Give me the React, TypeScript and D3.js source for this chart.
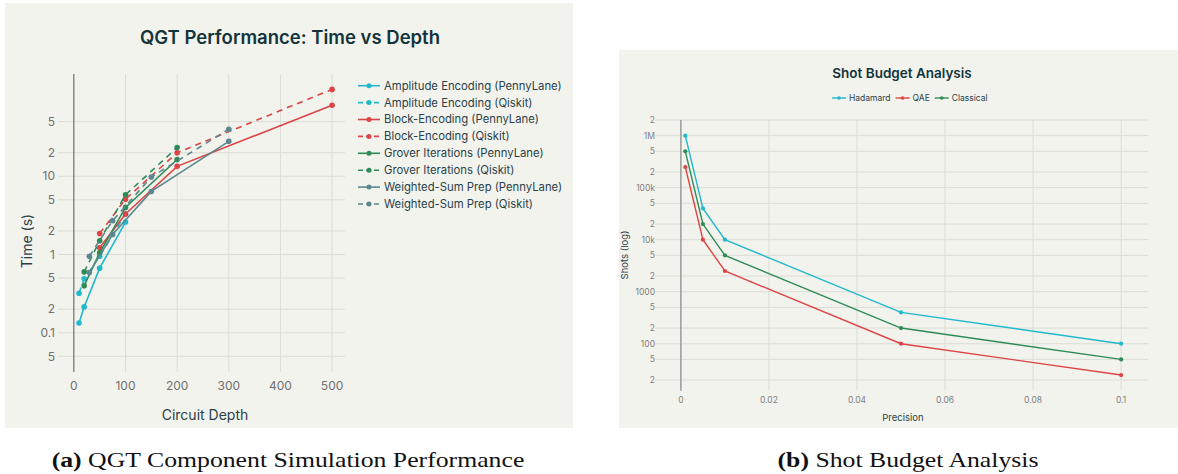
import React, { useEffect, useRef } from "react";
import * as d3 from "d3";

// ---- panel (a): time vs circuit depth ----
const ampDepth = [10, 20, 50, 100];
const ampPenny = [0.133, 0.214, 0.67, 2.6];
const ampQiskit = [0.32, 0.49, 0.95, 3.3];

const blockDepth = [50, 100, 200, 500];
const blockPenny = [1.22, 3.3, 13.4, 81];
const blockQiskit = [1.86, 5.1, 20, 129];

const groverDepth = [20, 50, 100, 200];
const groverPenny = [0.4, 1.05, 4.0, 16.4];
const groverQiskit = [0.6, 1.5, 5.8, 23.3];

const wsDepth = [30, 75, 150, 300];
const wsPenny = [0.59, 1.8, 6.4, 28];
const wsQiskit = [0.95, 2.7, 9.8, 40];

const timeTicks = [0.05, 0.1, 0.2, 0.5, 1, 2, 5, 10, 20, 50];
const timeTickLabels = ["5", "0.1", "2", "5", "1", "2", "5", "10", "2", "5"];
const depthTicks = [0, 100, 200, 300, 400, 500];

// ---- panel (b): shots vs precision ----
const precision = [0.001, 0.005, 0.01, 0.05, 0.1];
const hadamardShots = [1000000, 40000, 10000, 400, 100];
const qaeShots = [250000, 10000, 2500, 100, 25];
const classicalShots = [500000, 20000, 5000, 200, 50];

const shotTicks = [20, 50, 100, 200, 500, 1000, 2000, 5000, 10000, 20000, 50000, 100000, 200000, 500000, 1000000, 2000000];
const shotTickLabels = ["2", "5", "100", "2", "5", "1000", "2", "5", "10k", "2", "5", "100k", "2", "5", "1M", "2"];
const precTicks = [0, 0.02, 0.04, 0.06, 0.08, 0.1];
const precTickLabels = ["0", "0.02", "0.04", "0.06", "0.08", "0.1"];

const CYAN = "#1FB8CD";
const RED = "#DB4545";
const GREEN = "#2E8B57";
const SLATE = "#5D878F";
const BG = "#F3F3EE";
const GRID = "#DCDCD6";
const FONT = "Inter, 'Open Sans', sans-serif";

type Series = { name: string; xs: number[]; ys: number[]; color: string; dashed: boolean };

const App = () => {
  const svgRef = useRef<SVGSVGElement>(null);

  useEffect(() => {
    const svg = d3.select(svgRef.current);
    svg.selectAll("*").remove();

    // ===== left panel =====
    const L = svg.append("g");
    L.append("rect").attr("x", 5).attr("y", 3).attr("width", 568).attr("height", 425).attr("fill", BG);

    const x1 = d3.scaleLinear().domain([-21, 525]).range([63, 345]);
    const y1 = d3.scaleLog().domain([0.0315, 203]).range([372, 74]);

    // grid
    L.selectAll(".hg").data(timeTicks).join("line")
      .attr("x1", 58).attr("x2", 345)
      .attr("y1", d => y1(d)).attr("y2", d => y1(d))
      .attr("stroke", GRID).attr("stroke-width", 1);
    L.selectAll(".vg").data(depthTicks.slice(1)).join("line")
      .attr("x1", d => x1(d)).attr("x2", d => x1(d))
      .attr("y1", 74).attr("y2", 372)
      .attr("stroke", GRID).attr("stroke-width", 1);
    L.append("line").attr("x1", x1(0)).attr("x2", x1(0)).attr("y1", 74).attr("y2", 372)
      .attr("stroke", "#555").attr("stroke-width", 1);

    L.selectAll(".yt").data(timeTicks).join("text")
      .attr("x", 55).attr("y", d => y1(d)).attr("dy", "0.35em")
      .attr("text-anchor", "end").attr("fill", "#707070")
      .style("font-family", FONT).style("font-size", "12px")
      .text((d, i) => timeTickLabels[i]);
    L.selectAll(".xt").data(depthTicks).join("text")
      .attr("x", d => x1(d)).attr("y", 386).attr("dy", "0.35em")
      .attr("text-anchor", "middle").attr("fill", "#707070")
      .style("font-family", FONT).style("font-size", "12px")
      .text(d => String(d));

    L.append("text").attr("x", 290).attr("y", 38).attr("dy", "0.35em")
      .attr("text-anchor", "middle").attr("fill", "#13343B")
      .style("font-family", FONT).style("font-size", "18.5px").style("font-weight", 600)
      .text("QGT Performance: Time vs Depth");
    L.append("text").attr("x", 205).attr("y", 415).attr("dy", "0.35em")
      .attr("text-anchor", "middle").attr("fill", "#2a3f47")
      .style("font-family", FONT).style("font-size", "14px")
      .text("Circuit Depth");
    L.append("text").attr("transform", "translate(27,241) rotate(-90)").attr("dy", "0.35em")
      .attr("text-anchor", "middle").attr("fill", "#2a3f47")
      .style("font-family", FONT).style("font-size", "14px")
      .text("Time (s)");

    const left: Series[] = [
      { name: "Amplitude Encoding (PennyLane)", xs: ampDepth, ys: ampPenny, color: CYAN, dashed: false },
      { name: "Amplitude Encoding (Qiskit)", xs: ampDepth, ys: ampQiskit, color: CYAN, dashed: true },
      { name: "Block-Encoding (PennyLane)", xs: blockDepth, ys: blockPenny, color: RED, dashed: false },
      { name: "Block-Encoding (Qiskit)", xs: blockDepth, ys: blockQiskit, color: RED, dashed: true },
      { name: "Grover Iterations (PennyLane)", xs: groverDepth, ys: groverPenny, color: GREEN, dashed: false },
      { name: "Grover Iterations (Qiskit)", xs: groverDepth, ys: groverQiskit, color: GREEN, dashed: true },
      { name: "Weighted-Sum Prep (PennyLane)", xs: wsDepth, ys: wsPenny, color: SLATE, dashed: false },
      { name: "Weighted-Sum Prep (Qiskit)", xs: wsDepth, ys: wsQiskit, color: SLATE, dashed: true },
    ];

    left.forEach(s => {
      const pts = s.xs.map((x, i) => [x, s.ys[i]] as [number, number]);
      const line = d3.line<[number, number]>().x(d => x1(d[0])).y(d => y1(d[1]));
      L.append("path").datum(pts).attr("d", line).attr("fill", "none")
        .attr("stroke", s.color).attr("stroke-width", 1.6)
        .attr("stroke-dasharray", s.dashed ? "6,5" : null);
      L.append("g").selectAll("circle").data(pts).join("circle")
        .attr("cx", d => x1(d[0])).attr("cy", d => y1(d[1])).attr("r", 2.8)
        .attr("fill", s.color);
    });

    // legend
    left.forEach((s, i) => {
      const yy = 85.7 + i * 16.9;
      L.append("line").attr("x1", 358).attr("x2", 380).attr("y1", yy).attr("y2", yy)
        .attr("stroke", s.color).attr("stroke-width", 1.6)
        .attr("stroke-dasharray", s.dashed ? "5,3" : null);
      L.append("circle").attr("cx", 369).attr("cy", yy).attr("r", 2.5).attr("fill", s.color);
      L.append("text").attr("x", 384).attr("y", yy).attr("dy", "0.35em")
        .attr("fill", "#2a3f47").style("font-family", FONT).style("font-size", "11.3px")
        .text(s.name);
    });

    // ===== right panel =====
    const R = svg.append("g");
    R.append("rect").attr("x", 619).attr("y", 50).attr("width", 559).attr("height", 378).attr("fill", BG);

    const x2 = d3.scaleLinear().domain([-0.0052, 0.1061]).range([658, 1148]);
    const y2 = d3.scaleLog().domain([12.5, 2000000]).range([390.7, 120]);

    R.selectAll(".hg").data(shotTicks).join("line")
      .attr("x1", 655).attr("x2", 1148)
      .attr("y1", d => y2(d)).attr("y2", d => y2(d))
      .attr("stroke", GRID).attr("stroke-width", 1);
    R.selectAll(".vg").data(precTicks.slice(1)).join("line")
      .attr("x1", d => x2(d)).attr("x2", d => x2(d))
      .attr("y1", 120).attr("y2", 390.7)
      .attr("stroke", GRID).attr("stroke-width", 1);
    R.append("line").attr("x1", x2(0)).attr("x2", x2(0)).attr("y1", 120).attr("y2", 390.7)
      .attr("stroke", "#999").attr("stroke-width", 1.5);

    R.selectAll(".yt").data(shotTicks).join("text")
      .attr("x", 655).attr("y", d => y2(d)).attr("dy", "0.35em")
      .attr("text-anchor", "end").attr("fill", "#808080")
      .style("font-family", FONT).style("font-size", "8.5px")
      .text((d, i) => shotTickLabels[i]);
    R.selectAll(".xt").data(precTicks).join("text")
      .attr("x", d => x2(d)).attr("y", 400).attr("dy", "0.35em")
      .attr("text-anchor", "middle").attr("fill", "#808080")
      .style("font-family", FONT).style("font-size", "8.5px")
      .text((d, i) => precTickLabels[i]);

    R.append("text").attr("x", 902).attr("y", 73).attr("dy", "0.35em")
      .attr("text-anchor", "middle").attr("fill", "#13343B")
      .style("font-family", FONT).style("font-size", "13.5px").style("font-weight", 600)
      .text("Shot Budget Analysis");
    R.append("text").attr("x", 903).attr("y", 418).attr("dy", "0.35em")
      .attr("text-anchor", "middle").attr("fill", "#2a3f47")
      .style("font-family", FONT).style("font-size", "9.5px")
      .text("Precision");
    R.append("text").attr("transform", "translate(625,255) rotate(-90)").attr("dy", "0.35em")
      .attr("text-anchor", "middle").attr("fill", "#2a3f47")
      .style("font-family", FONT).style("font-size", "9.5px")
      .text("Shots (log)");

    const right: Series[] = [
      { name: "Hadamard", xs: precision, ys: hadamardShots, color: CYAN, dashed: false },
      { name: "QAE", xs: precision, ys: qaeShots, color: RED, dashed: false },
      { name: "Classical", xs: precision, ys: classicalShots, color: GREEN, dashed: false },
    ];

    right.forEach(s => {
      const pts = s.xs.map((x, i) => [x, s.ys[i]] as [number, number]);
      const line = d3.line<[number, number]>().x(d => x2(d[0])).y(d => y2(d[1]));
      R.append("path").datum(pts).attr("d", line).attr("fill", "none")
        .attr("stroke", s.color).attr("stroke-width", 1.4);
      R.append("g").selectAll("circle").data(pts).join("circle")
        .attr("cx", d => x2(d[0])).attr("cy", d => y2(d[1])).attr("r", 2.1)
        .attr("fill", s.color);
    });

    // horizontal legend
    let lx = 832;
    right.forEach(s => {
      const yy = 98;
      R.append("line").attr("x1", lx).attr("x2", lx + 14).attr("y1", yy).attr("y2", yy)
        .attr("stroke", s.color).attr("stroke-width", 1.4);
      R.append("circle").attr("cx", lx + 7).attr("cy", yy).attr("r", 1.8).attr("fill", s.color);
      const t = R.append("text").attr("x", lx + 17).attr("y", yy).attr("dy", "0.35em")
        .attr("fill", "#2a3f47").style("font-family", FONT).style("font-size", "8.5px")
        .text(s.name);
      const w = (t.node() as SVGTextElement).getComputedTextLength();
      lx += 17 + w + 5;
    });

    // ===== captions (stretched a little to match the wider book face) =====
    const cap = (cx: number, label: string, text: string) => {
      const g = svg.append("g").attr("transform", `translate(${cx},467) scale(1.17,1)`);
      const t = g.append("text").attr("x", 0).attr("y", 0)
        .attr("text-anchor", "middle").attr("fill", "#111")
        .style("font-family", "'Liberation Serif', serif").style("font-size", "22px");
      t.append("tspan").style("font-weight", "bold").text(label);
      t.append("tspan").text(" " + text);
    };
    cap(288, "(a)", "QGT Component Simulation Performance");
    cap(908, "(b)", "Shot Budget Analysis");
  }, []);

  return (
    <svg ref={svgRef} width={1178} height={474}
      style={{ position: "absolute", left: 0, top: 0, background: "#fff" }} />
  );
};

export default App;
